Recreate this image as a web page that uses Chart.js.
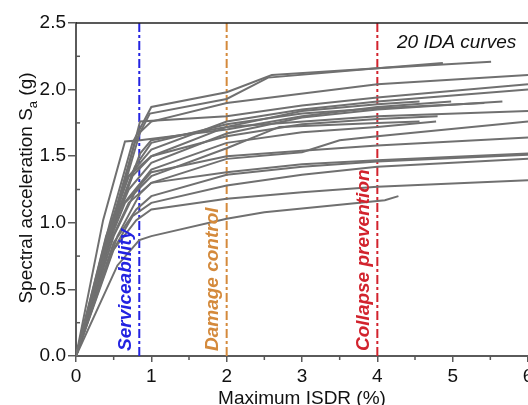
<!DOCTYPE html>
<html>
<head>
<meta charset="utf-8">
<script src="https://cdn.jsdelivr.net/npm/chart.js@4.4.1/dist/chart.umd.min.js"></script>
<style>
  html, body { margin: 0; padding: 0; background: #fff; }
  #wrap { width: 528px; height: 405px; }
</style>
</head>
<body>
<div id="wrap"><canvas id="idaChart" width="528" height="405"></canvas></div>
<script>
// IDA curves, [max ISDR (%), Sa (g)]
const ida01 = [[0,0],[0.45,1.0],[0.75,1.6],[1.0,1.87],[2.0,1.98],[2.6,2.11],[4.0,2.16],[4.87,2.20]];
const ida02 = [[0,0],[0.5,1.05],[0.78,1.6],[0.98,1.82],[2.0,1.93],[2.55,2.09],[4.0,2.16],[5.51,2.21]];
const ida03 = [[0,0],[0.5,1.0],[0.85,1.68],[1.0,1.76],[2.0,1.90],[4.0,2.04],[6.0,2.11]];
const ida04 = [[0,0],[0.55,1.1],[0.85,1.76],[2.0,1.80],[3.0,1.88],[4.0,1.94],[6.0,2.04]];
const ida05 = [[0,0],[0.4,0.9],[0.7,1.35],[1.0,1.55],[2.0,1.76],[3.0,1.85],[4.0,1.91],[6.0,2.0]];
const ida06 = [[0,0],[0.45,0.95],[0.7,1.35],[1.0,1.5],[2.0,1.72],[3.0,1.84],[4.0,1.89],[4.56,1.91]];
const ida07 = [[0,0],[0.36,1.02],[0.65,1.61],[0.85,1.62],[2.0,1.70],[3.0,1.80],[4.0,1.87],[4.98,1.91]];
const ida08 = [[0,0],[0.5,1.0],[0.78,1.42],[1.0,1.6],[2.0,1.74],[3.0,1.82],[4.0,1.86],[5.42,1.90]];
const ida09 = [[0,0],[0.4,0.85],[0.7,1.25],[1.0,1.45],[2.0,1.67],[3.0,1.79],[4.0,1.85],[5.66,1.91]];
const ida10 = [[0,0],[0.55,1.05],[0.85,1.52],[1.0,1.62],[2.0,1.72],[4.0,1.80],[6.0,1.84]];
const ida11 = [[0,0],[0.45,0.9],[0.75,1.35],[1.0,1.5],[2.0,1.65],[3.0,1.74],[4.0,1.78],[4.8,1.80]];
const ida12 = [[0,0],[0.4,0.8],[0.65,1.15],[1.0,1.35],[2.0,1.56],[2.7,1.72],[4.0,1.75],[4.56,1.76]];
const ida13 = [[0,0],[0.35,0.75],[0.6,1.12],[1.0,1.4],[2.0,1.6],[3.0,1.68],[4.0,1.72],[4.78,1.76]];
const ida14 = [[0,0],[0.45,0.85],[0.7,1.15],[1.0,1.3],[2.0,1.48],[3.0,1.53],[3.5,1.62],[4.0,1.65],[6.0,1.76]];
const ida15 = [[0,0],[0.5,0.9],[0.8,1.25],[1.0,1.38],[2.0,1.50],[3.0,1.54],[4.0,1.58],[6.0,1.64]];
const ida16 = [[0,0],[0.55,0.9],[0.85,1.22],[1.0,1.3],[2.0,1.38],[3.0,1.44],[4.0,1.47],[6.0,1.52]];
const ida17 = [[0,0],[0.5,0.85],[0.8,1.1],[1.0,1.2],[2.0,1.36],[3.0,1.42],[4.0,1.46],[6.0,1.51]];
const ida18 = [[0,0],[0.5,0.8],[0.8,1.02],[1.0,1.1],[2.0,1.18],[3.0,1.23],[4.0,1.27],[6.0,1.32]];
const ida19 = [[0,0],[0.55,0.68],[0.84,0.87],[1.0,0.9],[2.0,1.03],[2.5,1.08],[4.1,1.17],[4.28,1.20]];
const ida20 = [[0,0],[0.45,0.75],[0.75,1.05],[1.0,1.15],[2.0,1.28],[3.0,1.36],[4.0,1.42],[6.0,1.48]];

const idaCurves = [ida01, ida02, ida03, ida04, ida05, ida06, ida07, ida08, ida09, ida10,
                   ida11, ida12, ida13, ida14, ida15, ida16, ida17, ida18, ida19, ida20];

// performance levels (drift limits)
const limitNames = ['Serviceability', 'Damage control', 'Collapse prevention'];
const limitDrifts = [0.84, 2, 4];
const limitColors = ['rgb(35,35,225)', 'rgb(212,138,60)', 'rgb(210,35,45)'];

const xMin = 0, xMax = 6, xStep = 1;
const yMin = 0, yMax = 2.5, yStep = 0.5;

const FONT = "'Liberation Sans', Arial, sans-serif";

const datasets = idaCurves.map(function (c) {
  return {
    data: c.map(function (p) { return { x: p[0], y: p[1] }; }),
    borderColor: 'rgb(112,112,112)',
    borderWidth: 2,
    pointRadius: 0,
    showLine: true,
    tension: 0
  };
});

limitDrifts.forEach(function (d, i) {
  datasets.push({
    data: [{ x: d, y: yMin }, { x: d, y: yMax }],
    borderColor: limitColors[i],
    borderWidth: 2,
    borderDash: [9, 3, 3, 3],
    pointRadius: 0,
    showLine: true
  });
});

// titles, limit labels, minor ticks, top frame
const decorations = {
  id: 'decorations',
  afterDatasetsDraw(chart) {
    const ctx = chart.ctx;
    const xs = chart.scales.x, ys = chart.scales.y;
    const area = chart.chartArea;

    ctx.save();
    // top frame line
    ctx.strokeStyle = '#222';
    ctx.lineWidth = 1.5;
    ctx.beginPath();
    ctx.moveTo(area.left, area.top);
    ctx.lineTo(area.right, area.top);
    ctx.stroke();

    // minor ticks
    ctx.strokeStyle = '#555';
    ctx.lineWidth = 1.5;
    for (let v = yMin + yStep / 2; v < yMax; v += yStep) {
      const py = ys.getPixelForValue(v);
      ctx.beginPath();
      ctx.moveTo(area.left, py);
      ctx.lineTo(area.left + 4, py);
      ctx.stroke();
    }
    for (let v = xMin + xStep / 2; v < xMax; v += xStep) {
      const px = xs.getPixelForValue(v);
      ctx.beginPath();
      ctx.moveTo(px, area.bottom);
      ctx.lineTo(px, area.bottom + 4);
      ctx.stroke();
    }

    // limit state labels
    ctx.font = 'italic bold 19px ' + FONT;
    ctx.textBaseline = 'middle';
    ctx.textAlign = 'left';
    limitDrifts.forEach(function (d, i) {
      const px = xs.getPixelForValue(d) - 14;
      ctx.save();
      ctx.translate(px, area.bottom - 5);
      ctx.rotate(-Math.PI / 2);
      ctx.fillStyle = limitColors[i];
      ctx.fillText(limitNames[i], 0, 0);
      ctx.restore();
    });

    // annotation
    ctx.fillStyle = '#111';
    ctx.font = 'italic 19px ' + FONT;
    ctx.textBaseline = 'alphabetic';
    ctx.fillText('20 IDA curves', 397, 48);

    // x axis title
    ctx.font = '19px ' + FONT;
    ctx.textAlign = 'center';
    ctx.fillText('Maximum ISDR (%)', 302, 404);

    // y axis title with subscript
    ctx.save();
    ctx.translate(32, 188);
    ctx.rotate(-Math.PI / 2);
    const main = 'Spectral acceleration S';
    const tail = ' (g)';
    ctx.font = '19px ' + FONT;
    const w1 = ctx.measureText(main).width;
    const w3 = ctx.measureText(tail).width;
    ctx.font = '13px ' + FONT;
    const w2 = ctx.measureText('a').width;
    let x0 = -(w1 + w2 + w3) / 2;
    ctx.textAlign = 'left';
    ctx.font = '19px ' + FONT;
    ctx.fillText(main, x0, 0);
    ctx.font = '13px ' + FONT;
    ctx.fillText('a', x0 + w1, 5);
    ctx.font = '19px ' + FONT;
    ctx.fillText(tail, x0 + w1 + w2, 0);
    ctx.restore();

    ctx.restore();
  }
};

new Chart(document.getElementById('idaChart').getContext('2d'), {
  type: 'scatter',
  data: { datasets: datasets },
  options: {
    responsive: false,
    animation: false,
    layout: { padding: { top: 23, right: 0, bottom: 0, left: 0 } },
    plugins: {
      legend: { display: false },
      tooltip: { enabled: false }
    },
    scales: {
      x: {
        type: 'linear',
        min: xMin,
        max: xMax,
        border: { color: '#5a5a5a', width: 2 },
        grid: { drawOnChartArea: false, tickLength: 6, color: '#5a5a5a', lineWidth: 1.5 },
        ticks: {
          stepSize: xStep,
          padding: 3,
          color: '#111',
          font: { family: FONT, size: 19 },
          maxRotation: 0
        },
        afterFit(scale) {
          scale.height = 49;
          scale.paddingLeft = 0;
          scale.paddingRight = 0;
        }
      },
      y: {
        type: 'linear',
        min: yMin,
        max: yMax,
        border: { color: '#5a5a5a', width: 2 },
        grid: { drawOnChartArea: false, tickLength: 8, color: '#5a5a5a', lineWidth: 1.5 },
        ticks: {
          stepSize: yStep,
          padding: 2,
          color: '#111',
          font: { family: FONT, size: 19 },
          callback: function (v) { return v.toFixed(1); }
        },
        afterFit(scale) {
          scale.width = 76;
          scale.paddingTop = 0;
          scale.paddingBottom = 0;
        }
      }
    }
  },
  plugins: [decorations]
});
</script>
</body>
</html>
